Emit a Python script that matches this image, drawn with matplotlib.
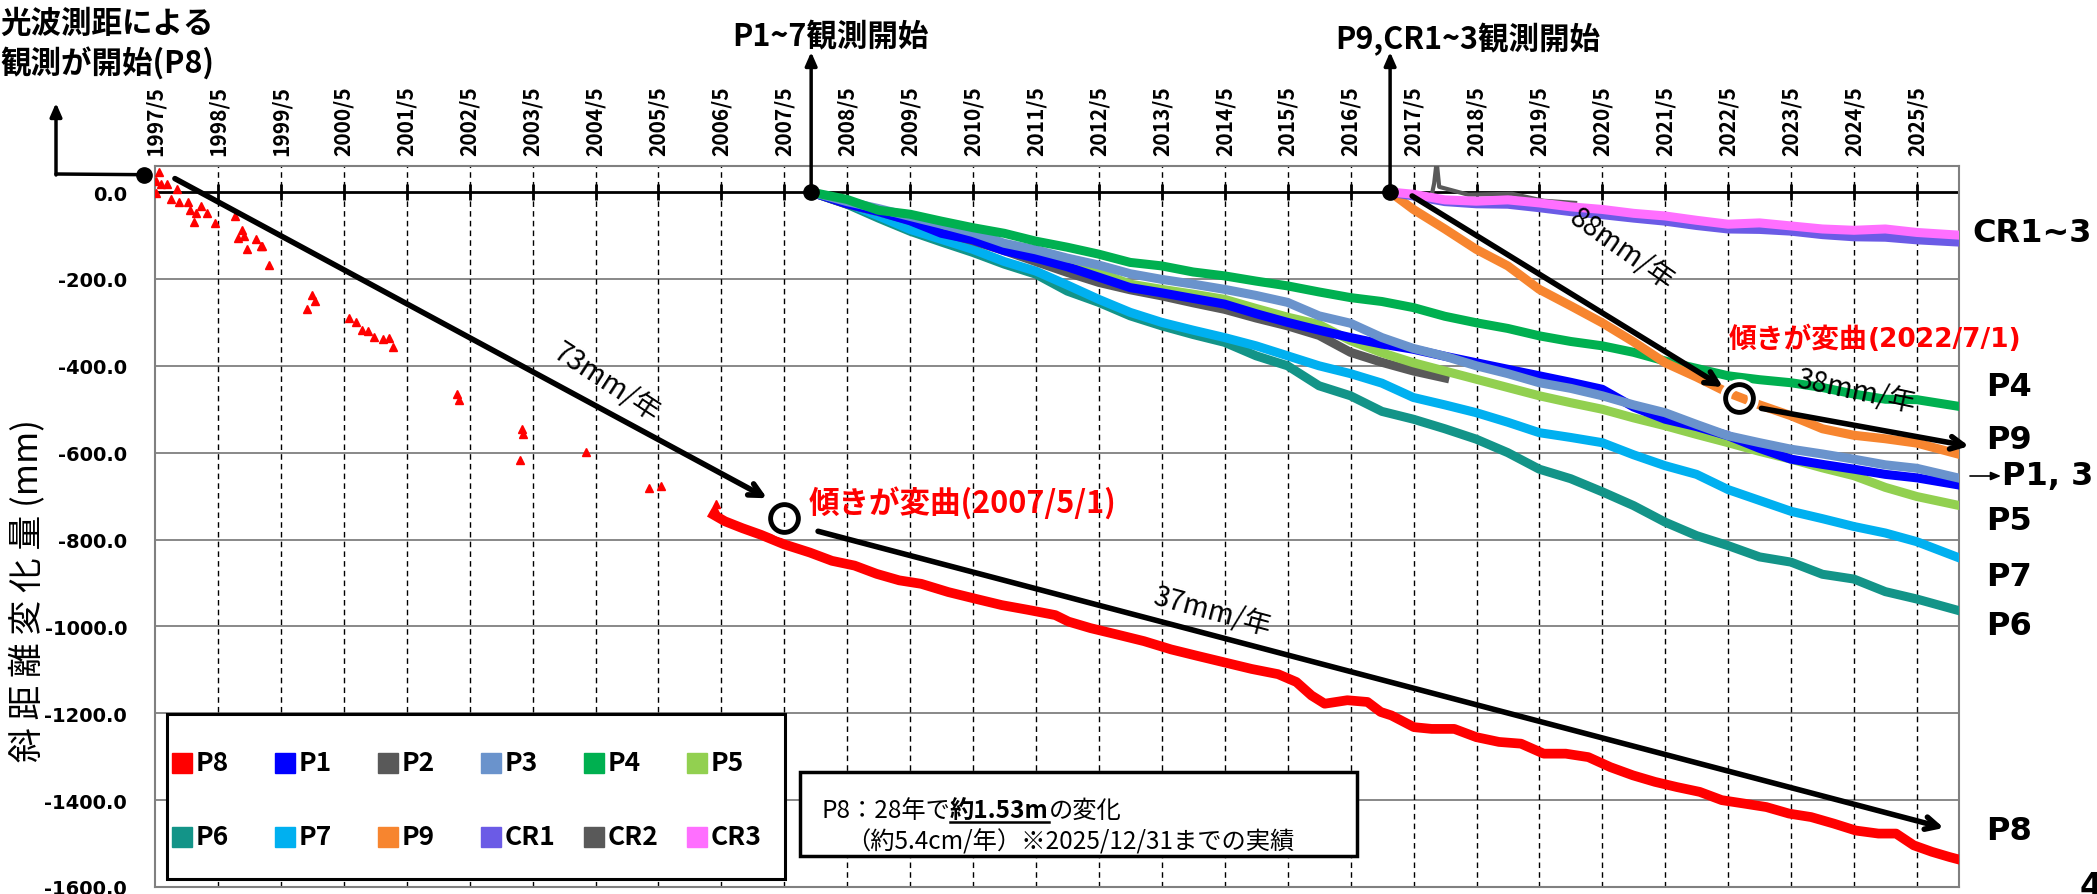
import numpy as np
import matplotlib.pyplot as plt
from matplotlib.lines import Line2D
from matplotlib.patches import Rectangle

CJK = 'Noto Sans CJK JP'
W, H = 2097, 895

# ---- data (year as decimal, displacement in mm) ----
# P8 early sparse survey points (triangles)
p8e_yr = [1997.40, 1997.35, 1997.43, 1997.52, 1997.35, 1997.68, 1997.58, 1997.71, 1997.85,
          1997.89, 1997.99, 1997.96, 1998.07, 1998.16, 1998.29, 1998.60, 1998.66, 1998.71,
          1998.75, 1998.79, 1998.94, 1999.01, 1999.04, 1999.14, 1999.83, 1999.87, 1999.75,
          2000.41, 2000.52, 2000.62, 2000.72, 2000.82, 2000.95, 2001.05, 2001.12, 2002.14,
          2002.17, 2003.16, 2003.18, 2003.14, 2004.19, 2005.19, 2005.38, 2006.25, 2006.23]
p8e_mm = [46, 25, 18, 18, -2, 8, -15, -24, -23,
          -42, -49, -69, -31, -49, -72, -55, -105, -88,
          -101, -131, -107, -124, -125, -168, -238, -250, -270,
          -289, -299, -318, -320, -333, -339, -336, -356, -465,
          -478, -545, -557, -617, -598, -682, -677, -719, -730]

# P8 continuous record
p8_yr = [2006.21, 2006.39, 2006.67, 2006.96, 2007.33, 2007.74, 2008.09, 2008.45, 2008.80,
         2009.16, 2009.51, 2009.94, 2010.36, 2010.79, 2011.21, 2011.64, 2011.85, 2012.20,
         2012.63, 2013.05, 2013.48, 2013.90, 2014.33, 2014.76, 2015.18, 2015.47, 2015.71,
         2015.92, 2016.28, 2016.60, 2016.81, 2016.98, 2017.34, 2017.62, 2017.98, 2018.33,
         2018.69, 2019.04, 2019.40, 2019.75, 2020.11, 2020.46, 2020.82, 2021.17, 2021.52,
         2021.88, 2022.23, 2022.59, 2022.94, 2023.30, 2023.65, 2024.01, 2024.36, 2024.72,
         2025.00, 2025.28, 2025.57, 2025.85, 2025.98]
p8_mm = [-743, -758, -774, -789, -811, -830, -849, -860, -879,
         -894, -902, -921, -936, -951, -962, -974, -989, -1004,
         -1019, -1034, -1053, -1068, -1083, -1098, -1110, -1128, -1159,
         -1178, -1170, -1174, -1197, -1205, -1232, -1236, -1236, -1255,
         -1266, -1270, -1293, -1293, -1301, -1324, -1343, -1358, -1370,
         -1381, -1400, -1408, -1416, -1431, -1439, -1454, -1470, -1477,
         -1477, -1504, -1519, -1531, -1536]

# P1~P7 (from 2007)
p17_yr = [2007.76, 2008.33, 2008.83, 2009.33, 2009.83, 2010.33, 2010.83, 2011.33, 2011.83,
          2012.33, 2012.83, 2013.33, 2013.83, 2014.33, 2014.83, 2015.33, 2015.83, 2016.33,
          2016.83, 2017.33, 2017.83, 2018.33, 2018.83, 2019.33, 2019.83, 2020.33, 2020.83,
          2021.33, 2021.83, 2022.33, 2022.83, 2023.33, 2023.83, 2024.33, 2024.83, 2025.33,
          2025.98]
p1_mm = [0, -27, -45, -66, -95, -110, -135, -152, -172, -196, -220, -232, -245, -258, -280,
         -300, -318, -335, -350, -362, -378, -393, -408, -423, -438, -454, -495, -523, -540,
         -561, -590, -615, -627, -638, -650, -658, -674]
p2_mm = [0, -28, -45, -65, -92, -112, -135, -160, -185, -208, -225, -239, -255, -270, -290,
         -308, -330, -369, -392, -412, -428]
p3_mm = [0, -22, -38, -56, -74, -93, -118, -133, -152, -168, -188, -201, -212, -224, -238,
         -254, -285, -302, -335, -360, -378, -400, -418, -439, -452, -469, -490, -508, -535,
         -561, -577, -592, -603, -615, -628, -636, -658]
p4_mm = [0, -17, -42, -51, -67, -82, -95, -113, -127, -143, -162, -170, -184, -193, -205,
         -216, -230, -243, -252, -266, -286, -301, -314, -331, -344, -354, -369, -389, -406,
         -423, -432, -439, -450, -465, -477, -478, -493]
p5_mm = [0, -25, -45, -62, -90, -105, -125, -143, -165, -185, -212, -224, -235, -247, -268,
         -288, -305, -342, -370, -393, -412, -431, -450, -469, -485, -500, -520, -538, -558,
         -577, -597, -615, -635, -653, -680, -701, -721]
p6_mm = [0, -28, -60, -90, -115, -139, -166, -189, -228, -254, -285, -308, -328, -346, -377,
         -400, -446, -469, -505, -523, -545, -569, -600, -638, -660, -690, -722, -760, -791,
         -814, -840, -852, -880, -891, -920, -937, -963]
p7_mm = [0, -25, -55, -86, -109, -132, -160, -182, -214, -247, -277, -300, -318, -335, -354,
         -377, -400, -418, -440, -473, -490, -508, -530, -554, -565, -577, -605, -630, -650,
         -685, -710, -735, -752, -770, -785, -805, -841]

# P9, CR1~3 (from 2016/12)
p9cr_yr = [2016.96, 2017.33, 2017.83, 2018.33, 2018.83, 2019.33, 2019.83, 2020.33, 2020.83,
           2021.33, 2021.83, 2022.33, 2022.83, 2023.33, 2023.83, 2024.33, 2024.83, 2025.33,
           2025.98]
p9_mm = [0, -40, -85, -132, -170, -224, -262, -301, -345, -393, -426, -462, -490, -515,
         -545, -560, -568, -578, -603]
cr1_mm = [0, -9, -22, -27, -28, -36, -45, -52, -60, -67, -77, -85, -86, -90, -98, -103,
          -104, -110, -115]
cr3_mm = [0, -5, -18, -21, -18, -25, -34, -40, -49, -55, -65, -74, -71, -78, -85, -88,
          -85, -93, -99]
cr2_yr = [2016.96, 2017.30, 2017.62, 2017.66, 2017.70, 2017.74, 2018.20, 2018.90, 2019.40, 2019.90]
cr2_mm = [0, -4, -8, 20, 70, 12, -6, -4, -20, -25]

colors = {
    'P8': '#FF0000', 'P1': '#0000FF', 'P2': '#595959', 'P3': '#6A93CC',
    'P4': '#00B050', 'P5': '#92D050', 'P6': '#139488', 'P7': '#00B0F0',
    'P9': '#F7852F', 'CR1': '#6B5BE6', 'CR2': '#595959', 'CR3': '#FF6FFF',
}
legend_rows = [['P8', 'P1', 'P2', 'P3', 'P4', 'P5'],
               ['P6', 'P7', 'P9', 'CR1', 'CR2', 'CR3']]


def fx(px):
    return px / W


def fy(px_from_top):
    return 1 - px_from_top / H


fig = plt.figure(figsize=(W / 100, H / 100), dpi=100)
ax = fig.add_axes([155 / W, 7 / H, 1804 / W, 721 / H])

tick_years = np.arange(1997, 2026)
xticks = tick_years + 4 / 12
ax.set_xlim(xticks[0], 2026.0)
ax.set_ylim(-1600, 60)

# grid
yt = np.arange(-1600, 1, 200)
for v in yt:
    if v == 0:
        ax.axhline(0, color='black', lw=2, zorder=1)
    else:
        ax.axhline(v, color='#7f7f7f', lw=1.3, zorder=1)
for t in xticks[1:]:
    ax.axvline(t, color='black', lw=1, dashes=(4, 3), zorder=1)
ax.plot(xticks[1:], np.zeros(len(xticks) - 1), ls='', marker='|', ms=12, mew=2,
        color='black', zorder=1)

for s in ax.spines.values():
    s.set_color('#808080')
    s.set_linewidth(1.5)

ax.xaxis.tick_top()
ax.set_xticks(xticks)
ax.set_xticklabels([f'{y}/5' for y in tick_years], rotation=90,
                   fontfamily=CJK, fontweight='bold', fontsize=15)
ax.tick_params(axis='x', length=0, pad=8)
ax.set_yticks(yt)
ax.set_yticklabels([f'{v:.1f}' for v in yt], fontfamily='DejaVu Sans',
                   fontweight='bold', fontsize=14)
ax.tick_params(axis='y', length=0, pad=20)

# series
lw = 6.5
ax.plot(p8e_yr, p8e_mm, ls='', marker='^', ms=6, color=colors['P8'], zorder=3)
ax.plot(p8_yr, p8_mm, color=colors['P8'], lw=7, zorder=3)
series17 = [('P6', p6_mm), ('P7', p7_mm), ('P2', p2_mm), ('P5', p5_mm),
            ('P1', p1_mm), ('P3', p3_mm), ('P4', p4_mm)]
for name, vals in series17:
    ax.plot(p17_yr[:len(vals)], vals, color=colors[name], lw=lw, zorder=3)
ax.plot(p9cr_yr, p9_mm, color=colors['P9'], lw=lw, zorder=3)
ax.plot(cr2_yr, cr2_mm, color=colors['CR2'], lw=3, zorder=3)
ax.plot(p9cr_yr, cr1_mm, color=colors['CR1'], lw=lw, zorder=3)
ax.plot(p9cr_yr, cr3_mm, color=colors['CR3'], lw=lw, zorder=3)

# legend box: fixed 6 x 2 grid
fig.add_artist(Rectangle((fx(167), fy(880)), fx(618), 165 / H, transform=fig.transFigure,
                         facecolor='white', edgecolor='black', lw=2.2, zorder=9))
for r, row in enumerate(legend_rows):
    y = fy(764 + 74 * r)
    for c, name in enumerate(row):
        x = 182 + 103 * c
        fig.add_artist(Line2D([fx(x)], [y], ls='', marker='s', ms=14, color=colors[name],
                              transform=fig.transFigure, zorder=10))
        fig.text(fx(x + 14), y, name, fontfamily=CJK, fontweight='bold', fontsize=19,
                 va='center', ha='left', zorder=10)

# start-of-observation markers
dot = dict(marker='o', ms=11, color='black', clip_on=False, zorder=8)
head = dict(arrowstyle='-|>,head_length=0.8,head_width=0.35', lw=2.5, color='black',
            shrinkA=0, shrinkB=0)
p8_start = (1997.16, 40)
ax.plot(*p8_start, **dot)
ax.annotate('', xy=(56, H - 175), xycoords='figure pixels', xytext=p8_start,
            textcoords='data', arrowprops=dict(arrowstyle='-', lw=2.5, color='black',
                                               shrinkA=0, shrinkB=0))
ax.annotate('', xy=(56, H - 104), xycoords='figure pixels', xytext=(56, H - 176),
            textcoords='figure pixels', arrowprops=head)
for x0 in (p17_yr[0], p9cr_yr[0]):
    ax.plot(x0, 0, **dot)
    ax.annotate('', xy=(x0, H - 53), xycoords=('data', 'figure pixels'), xytext=(x0, 0),
                textcoords='data', arrowprops=head, annotation_clip=False)

title_kw = dict(fontfamily=CJK, fontweight='bold', fontsize=22, va='center')
fig.text(fx(0), fy(24), '光波測距による', ha='left', **title_kw)
fig.text(fx(0), fy(64), '観測が開始(P8)', ha='left', **title_kw)
fig.text(fx(830), fy(37), 'P1~7観測開始', ha='center', **title_kw)
fig.text(fx(1468), fy(40), 'P9,CR1~3観測開始', ha='center', **title_kw)

# trend arrows
trend = dict(arrowstyle='->,head_length=0.9,head_width=0.45', lw=4, color='black',
             shrinkA=0, shrinkB=0)
for start, end in [((1997.65, 31), (2007.06, -705)), ((2007.87, -781), (2025.76, -1464)),
                   ((2017.31, -9), (2022.25, -449)), ((2022.86, -498), (2026.16, -585))]:
    ax.annotate('', xy=end, xytext=start, arrowprops=trend, annotation_clip=False, zorder=7)

rate_kw = dict(fontfamily=CJK, fontsize=20, ha='center', va='center')
fig.text(fx(606), fy(383), '73mm/年', rotation=-33, **rate_kw)
fig.text(fx(1212), fy(612), '37mm/年', rotation=-15, **rate_kw)
fig.text(fx(1622), fy(250), '88mm/年', rotation=-35, **rate_kw)
fig.text(fx(1856), fy(392), '38mm/年', rotation=-12, **rate_kw)

# inflection points
for x0, y0 in [(2007.33, -750), (2022.5, -475)]:
    ax.plot(x0, y0, 'o', ms=20, mfc='none', mec='white', mew=8, zorder=7)
    ax.plot(x0, y0, 'o', ms=20, mfc='none', mec='black', mew=3.5, zorder=8)
fig.text(fx(809), fy(504), '傾きが変曲(2007/5/1)', color='red', fontfamily=CJK,
         fontweight='bold', fontsize=22, va='center')
t_a = fig.text(fx(1729), fy(340), '傾きが変曲', color='red', fontfamily=CJK,
               fontweight='bold', fontsize=20, va='center')
fig.canvas.draw()
r = fig.canvas.get_renderer()
bb = t_a.get_window_extent(r)
fig.text(bb.x1 / W, fy(340), '(2022/7/1)', color='red', fontfamily='DejaVu Sans',
         fontweight='bold', fontsize=19, va='center')

# point labels on the right
lab_kw = dict(fontfamily='DejaVu Sans', fontweight='bold', fontsize=23, va='center')
for text, x, y in [('CR1~3', 1972, 234), ('P4', 1986, 388), ('P9', 1986, 441),
                   ('P1, 3', 2002, 477), ('P5', 1986, 522), ('P7', 1986, 578),
                   ('P6', 1986, 627), ('P8', 1986, 832)]:
    fig.text(fx(x), fy(y), text, **lab_kw)
ax.annotate('', xy=(2001, H - 477), xycoords='figure pixels', xytext=(1970, H - 477),
            textcoords='figure pixels',
            arrowprops=dict(arrowstyle='-|>,head_length=0.6,head_width=0.25', lw=1.2,
                            color='black', shrinkA=0, shrinkB=0))

fig.text(fx(27), fy(591), '斜 距 離 変 化 量 (mm)', rotation=90, fontfamily=CJK,
         fontsize=25, ha='center', va='center')
fig.text(fx(2080), -2 / H, '4', fontfamily='DejaVu Sans', fontweight='bold', fontsize=24,
         va='baseline')

# summary box for P8
fig.add_artist(Rectangle((fx(800), 38 / H), fx(557), 84 / H, transform=fig.transFigure,
                         facecolor='white', edgecolor='black', lw=2.5, zorder=9))
box_kw = dict(fontfamily=CJK, fontsize=17.5, va='baseline', zorder=10)
base1 = fy(818)
t1 = fig.text(fx(821), base1, 'P8：28年で', **box_kw)
fig.canvas.draw()
bb1 = t1.get_window_extent(r)
t2 = fig.text(bb1.x1 / W, base1, '約1.53m', fontweight='bold', **box_kw)
bb2 = t2.get_window_extent(r)
fig.add_artist(Line2D([bb2.x0 / W, bb2.x1 / W], [base1 - 5 / H] * 2, transform=fig.transFigure,
                      color='black', lw=1.8, zorder=10))
fig.text(bb2.x1 / W, base1, 'の変化', **box_kw)
fig.text(fx(846), fy(849), '（約5.4cm/年）※2025/12/31までの実績', **box_kw)

fig.savefig('out.png', dpi=100)
